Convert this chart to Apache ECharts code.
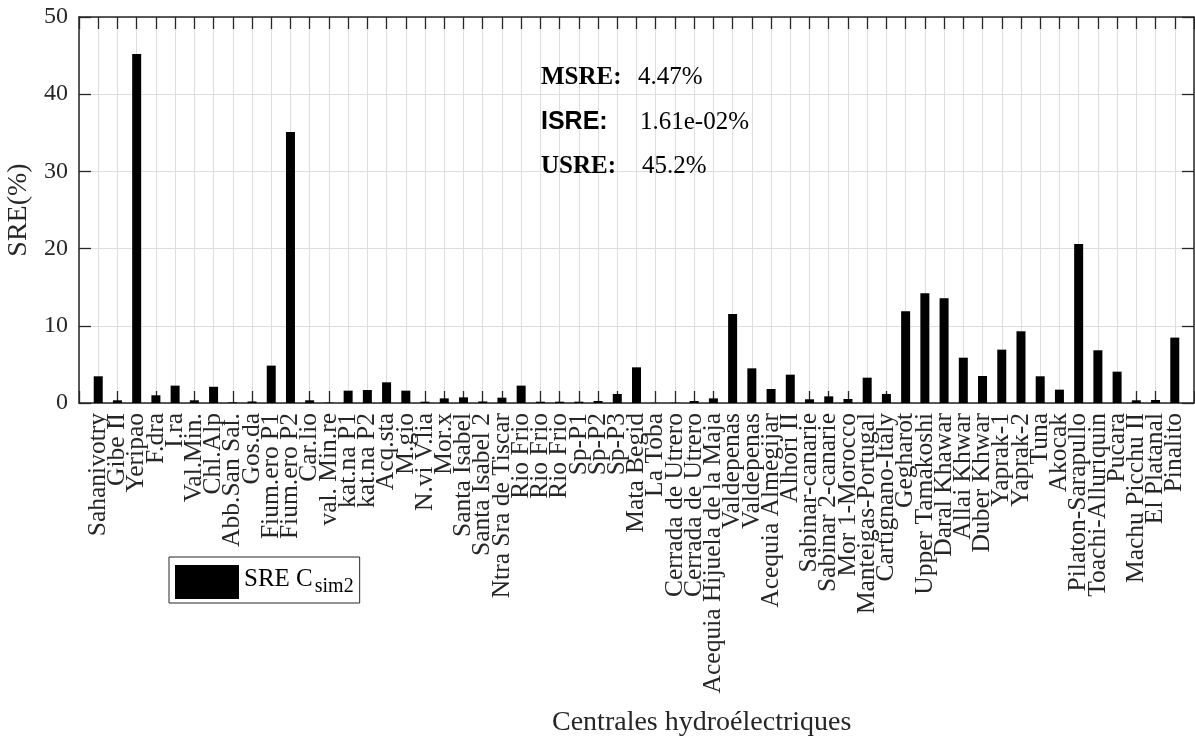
<!DOCTYPE html>
<html>
<head>
<meta charset="utf-8">
<title>SRE Csim2</title>
<script src="https://cdn.jsdelivr.net/npm/echarts@6.0.0/dist/echarts.min.js"></script>
<style>
	html, body { margin: 0; padding: 0; background: #fff; }
	#main { width: 1195px; height: 742px; }
</style>
</head>
<body>
<div id="main"></div>
<script>
// centrales (ordre du graphique)
var centrales = [
	'Sahanivotry', 'Gibe II', 'Yeripao', 'F.dra', 'I.ra', 'Val.Min.', 'Chl.Alp', 'Abb.San Sal.',
	'Gos.da', 'Fium.ero P1', 'Fium.ero P2', 'Car.lio', 'val. Min.re', 'kat.na P1', 'kat.na P2',
	'Acq.sta', 'M.gio', 'N.vi V.lia', 'Mor.x', 'Santa Isabel', 'Santa Isabel 2', 'Ntra Sra de Tiscar',
	'Rio Frio', 'Rio Frio', 'Rio Frio', 'Sp-P1', 'Sp-P2', 'Sp-P3', 'Mata Begid', 'La Toba',
	'Cerrada de Utrero', 'Cerrada de Utrero', 'Acequia Hijuela de la Maja', 'Valdepenas', 'Valdepenas',
	'Acequia Almegijar', 'Alhori II', 'Sabinar-canarie', 'Sabinar 2-canarie', 'Mor 1-Morocco',
	'Manteigas-Portugal', 'Cartignano-Italy', 'Gegharot', 'Upper Tamakoshi', 'Daral Khawar',
	'Allai Khwar', 'Duber Khwar', 'Yaprak-1', 'Yaprak-2', 'Tuna', 'Akocak', 'Pilaton-Sarapullo',
	'Toachi-Alluriquin', 'Pucara', 'Machu Picchu II', 'El Platanal', 'Pinalito'
];

// SRE (%)
var sreSim2 = [
	3.46, 0.35, 45.2, 1.0, 2.25, 0.35, 2.1, 0.08, 0.2, 4.84,
	35.1, 0.35, 0.05, 1.6, 1.68, 2.68, 1.6, 0.17, 0.6, 0.73,
	0.2, 0.69, 2.25, 0.17, 0.17, 0.17, 0.26, 1.17, 4.62, 0.0161,
	0.03, 0.26, 0.6, 11.53, 4.49, 1.81, 3.67, 0.48, 0.86, 0.52,
	3.28, 1.17, 11.88, 14.21, 13.56, 5.87, 3.5, 6.91, 9.29, 3.46,
	1.73, 20.6, 6.83, 4.06, 0.35, 0.39, 8.47
];

var yTicks = [0, 10, 20, 30, 40, 50];

var statNoms = ['MSRE:', 'ISRE:', 'USRE:'];
var statValeurs = ['4.47%', '1.61e-02%', '45.2%'];

var serie = [];
for (var i = 0; i < sreSim2.length; i++) {
	serie.push([i + 1, sreSim2[i]]);
}

var gris = '#262626';
var police = '"Liberation Serif", "Times New Roman", serif';

var myChart = echarts.init(document.getElementById('main'), null, { renderer: 'canvas' });

var tickX = { show: true, inside: true, length: 12, lineStyle: { color: gris, width: 1.3 } };
var tickY = { show: true, inside: true, length: 12, lineStyle: { color: gris, width: 1.3 } };
var ligneAxe = { show: true, onZero: false, lineStyle: { color: gris, width: 1.5 } };

// textes MSRE / ISRE / USRE
var statY = [79, 124, 168];
var statValX = [638, 640, 642];
var statFont = [
	'bold 25px ' + police,
	'bold 25px "Liberation Sans", Arial, sans-serif',
	'bold 25px ' + police
];
var graphiques = [];
for (var k = 0; k < statNoms.length; k++) {
	graphiques.push({
		type: 'text', left: 541, top: statY[k] - 14, z: 100,
		style: { text: statNoms[k], font: statFont[k], fill: '#000' }
	});
	graphiques.push({
		type: 'text', left: statValX[k], top: statY[k] - 14, z: 100,
		style: { text: statValeurs[k], font: '25px ' + police, fill: '#000' }
	});
}
graphiques.push({
	type: 'text', left: 552, top: 709, z: 100,
	style: { text: 'Centrales hydroélectriques', font: '28px ' + police, fill: gris }
});

var option = {
	animation: false,
	backgroundColor: '#fff',
	grid: {
		left: 79, right: 1, top: 17, bottom: 339,
		containLabel: false,
		outerBoundsMode: 'none'
	},
	legend: {
		show: true,
		left: 169, top: 557,
		orient: 'vertical',
		padding: [4, 6],
		backgroundColor: '#fff',
		borderColor: gris,
		borderWidth: 1,
		borderRadius: 0,
		itemWidth: 64,
		itemHeight: 34,
		icon: 'rect',
		data: ['SRE Csim2'],
		formatter: function() {
			return '{a|SRE C}{b|sim2}';
		},
		textStyle: {
			color: '#000',
			rich: {
				a: { fontFamily: police, fontSize: 25, lineHeight: 30, verticalAlign: 'top', color: '#000' },
				b: { fontFamily: police, fontSize: 20, lineHeight: 24, padding: [16, 0, 0, 2], verticalAlign: 'bottom', color: '#000' }
			}
		}
	},
	xAxis: [{
		type: 'value',
		position: 'bottom',
		min: 0,
		max: 58,
		interval: 1,
		axisLine: ligneAxe,
		axisTick: tickX,
		splitLine: { show: true, lineStyle: { color: '#dedede', width: 1 } },
		axisLabel: {
			rotate: 90,
			margin: 10,
			fontFamily: police,
			fontSize: 25.5,
			color: gris,
			showMinLabel: true,
			showMaxLabel: true,
			formatter: function(v) {
				return centrales[v - 1] || '';
			}
		}
	}, {
		type: 'value',
		position: 'top',
		min: 0,
		max: 58,
		interval: 1,
		axisLine: ligneAxe,
		axisTick: tickX,
		splitLine: { show: false },
		axisLabel: { show: false }
	}],
	yAxis: [{
		type: 'value',
		position: 'left',
		min: yTicks[0],
		max: yTicks[yTicks.length - 1],
		interval: 10,
		name: 'SRE(%)',
		nameLocation: 'middle',
		nameGap: 39,
		nameTextStyle: { fontFamily: police, fontSize: 28, color: gris },
		axisLine: ligneAxe,
		axisTick: tickY,
		splitLine: { show: true, lineStyle: { color: '#dedede', width: 1 } },
		axisLabel: { margin: 11, fontFamily: police, fontSize: 24, color: gris }
	}, {
		type: 'value',
		position: 'right',
		min: yTicks[0],
		max: yTicks[yTicks.length - 1],
		interval: 10,
		axisLine: ligneAxe,
		axisTick: tickY,
		splitLine: { show: false },
		axisLabel: { show: false }
	}],
	series: [{
		name: 'SRE Csim2',
		type: 'bar',
		xAxisIndex: 0,
		yAxisIndex: 0,
		barWidth: 9,
		itemStyle: { color: '#000' },
		data: serie,
		z: 3
	}],
	graphic: graphiques
};

myChart.setOption(option);
</script>
</body>
</html>
